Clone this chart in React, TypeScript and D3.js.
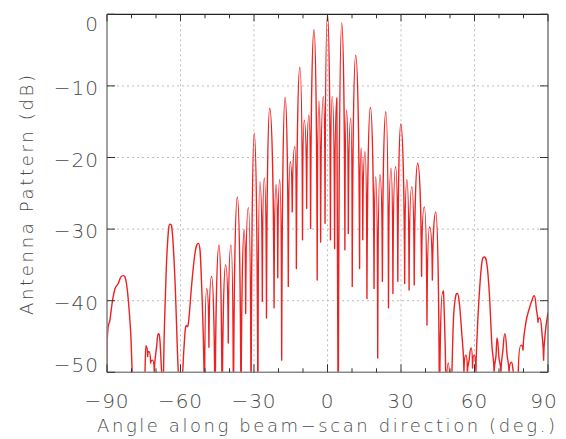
import React from "react";
import * as d3 from "d3";

// Angle (deg) / pattern (dB) vertices (peaks, nulls, ripple)
const angleDeg: number[] = [
  -90.0, -89.9, -88.8, -87.7, -86.7, -85.4, -84.4, -83.3, -82.2, -81.3, -80.3, -79.7, -78.5,
  -75.2, -74.5, -74.1, -73.4, -72.9, -72.2, -71.4, -70.7, -69.7, -69.1, -68.4, -67.7,
  -67.0, -66.0, -65.2, -64.3, -63.3, -62.2, -60.9, -59.5,
  -58.2, -56.8, -55.4, -54.1, -52.7, -51.4, -50.2,
  -49.3, -48.4, -47.3, -45.9, -44.3, -43.0, -41.6, -40.5, -39.4, -38.4, -36.8, -35.3,
  -34.0, -33.4, -32.3, -31.2, -29.9, -28.4, -27.6, -26.6, -25.8, -24.9, -23.6, -21.8,
  -21.0, -20.3, -19.5, -18.7, -17.3, -16.0, -15.2, -14.4, -13.3, -12.7, -11.3, -10.2,
  -9.5, -8.5, -7.6, -6.9, -5.5, -4.2, -3.5, -2.8, -1.7, -1.0, 0.0,
  1.2, 1.9, 2.9, 3.8, 4.4, 5.8, 7.1, 7.8, 8.5, 9.5, 10.1, 11.5, 13.1, 13.7, 14.4, 15.3,
  16.1, 17.5, 19.0, 19.7, 20.5, 21.4, 22.4, 23.8, 24.9, 25.9, 26.7, 27.8, 28.7, 29.9,
  31.5, 32.4, 33.3, 34.4, 35.4, 36.8, 38.4, 39.5, 40.6, 41.7, 42.8, 44.2, 45.7, 46.9,
  47.5, 48.4, 49.3, 50.0, 50.6, 51.4, 52.2, 53.0, 53.9, 54.7, 55.7,
  56.5, 57.1, 57.8, 58.6, 59.2, 59.8, 60.6,
  61.0, 61.8, 62.9, 64.0, 65.1, 66.1, 67.1, 68.0,
  68.8, 69.2, 70.0, 70.8, 71.6, 72.4, 73.3, 74.1, 75.1, 75.9, 77.8,
  79.0, 79.8, 81.0, 82.2, 83.5, 84.4, 85.3, 85.9, 86.7, 87.6, 88.2, 89.0, 90.0,
];

const patternDb: number[] = [
  -53, -45.5, -42.7, -39.9, -38.3, -37.6, -36.7, -36.5, -37.3, -39.9, -44.6, -50, -56,
  -56, -50, -46.3, -47.8, -47.1, -48.7, -48.3, -50, -46.3, -44.6, -45.5, -50,
  -53, -37.6, -31.5, -29.3, -30.6, -37.6, -50, -56,
  -44.6, -43.2, -37.6, -33.4, -32.0, -37.6, -56,
  -38.3, -46.5, -36.6, -58, -32.2, -58, -35.0, -45.9, -32.2, -58, -25.5, -58,
  -30.1, -41.8, -27.0, -58, -16.6, -58, -23.4, -40.1, -22.9, -42.4, -13.1, -41.0,
  -23.8, -36.8, -23.1, -48.3, -11.6, -38.0, -20.6, -27.6, -18.5, -35.5, -7.4, -31.5,
  -14.8, -27.1, -14.1, -29.9, -2.1, -37.1, -12.1, -31.8, -11.5, -29.2, 0.0,
  -31.5, -11.5, -32.7, -11.7, -60, -1.2, -32.9, -13.4, -30.6, -14.5, -38.0, -5.7, -35.5, -18.7, -31.5, -19.2,
  -39.7, -13.0, -38.3, -22.7, -48.0, -22.4, -37.3, -13.6, -41.0, -21.5, -39.0, -21.3, -37.3, -15.3,
  -37.6, -23.1, -38.5, -24.1, -37.8, -20.8, -36.6, -26.9, -43.4, -29.7, -37.1, -27.6, -58, -39.0,
  -40.0, -56, -48.7, -56, -52, -42.7, -39.6, -39.0, -40.6, -44.1, -50,
  -47.6, -50, -48.3, -46.6, -49.4, -47.6, -50,
  -45.5, -39.9, -35.0, -33.9, -35.0, -39.2, -46.2, -50,
  -47.6, -45.2, -48.0, -50, -46.9, -44.6, -47.6, -50, -48.6, -50, -51,
  -46.2, -46.9, -43.0, -41.3, -39.9, -39.3, -41.3, -43.0, -42.4, -44.8, -48.3, -44.1, -41.7,
];

const xTicks: number[] = [-90, -60, -30, 0, 30, 60, 90];
const xMinorTicks: number[] = [-80, -70, -50, -40, -20, -10, 10, 20, 40, 50, 70, 80];
const yTicks: number[] = [0, -10, -20, -30, -40, -50];
const xTickLabels: string[] = ["\u221290", "\u221260", "\u221230", "0", "30", "60", "90"];
const yTickLabels: string[] = ["0", "\u221210", "\u221220", "\u221230", "\u221240", "\u221250"];
const xTitle = "Angle along beam\u2212scan direction (deg.)";
const yTitle = "Antenna Pattern (dB)";

const W = 566;
const H = 439;
const L = 107;
const R = 548;
const T = 14.3;
const B = 372.3;

// Lobe-style path: round tops at local maxima, sharp nulls at local minima,
// smooth (Catmull-like) tangents elsewhere.
function lobePath(p: [number, number][]): string {
  const n = p.length;
  if (!n) return "";
  const k = 0.55;
  const kind = p.map((pt, i) => {
    if (i === 0 || i === n - 1) return 0;
    const a = p[i - 1][1];
    const c = p[i + 1][1];
    if (pt[1] < a && pt[1] < c) return 1; // peak (screen y smallest)
    if (pt[1] > a && pt[1] > c) return -1; // null
    return 0;
  });
  const handle = (i: number, j: number): [number, number] => {
    const [xi, yi] = p[i];
    const [xj, yj] = p[j];
    if (kind[i] === 1) return [xi + (xj - xi) * k, yi];
    if (kind[i] === -1) return [xi + (xj - xi) * 0.1, yi + (yj - yi) * k];
    const a = p[Math.max(0, i - 1)];
    const c = p[Math.min(n - 1, i + 1)];
    const m = (c[1] - a[1]) / (c[0] - a[0] || 1);
    const h = (xj - xi) / 3;
    return [xi + h, yi + m * h];
  };
  const path = d3.path();
  path.moveTo(p[0][0], p[0][1]);
  for (let i = 1; i < n; i++) {
    const c1 = handle(i - 1, i);
    const c2 = handle(i, i - 1);
    path.bezierCurveTo(c1[0], c1[1], c2[0], c2[1], p[i][0], p[i][1]);
  }
  return path.toString();
}

export default function App() {
  const x = d3.scaleLinear().domain([-90, 90]).range([L, R]);
  const y = d3.scaleLinear().domain([-50, 0]).range([B, T]);
  const pts: [number, number][] = angleDeg.map((a, i) => [x(a), y(patternDb[i])]);

  const font = "'DejaVu Sans', sans-serif";
  const txt = "#4a4a4a";
  const tickCol = "#333";

  return (
    <svg
      width={W}
      height={H}
      style={{ position: "absolute", left: 0, top: 0, background: "#fff" }}
    >
      <defs>
        <clipPath id="plotClip">
          <rect x={L} y={T - 2} width={R - L} height={B - T + 2} />
        </clipPath>
      </defs>
      {xTicks.slice(1, -1).map((t) => (
        <line key={"gx" + t} x1={x(t)} x2={x(t)} y1={T} y2={B} stroke="#bdbdbd" strokeWidth={1} strokeDasharray="2,3" />
      ))}
      {yTicks.slice(1, -1).map((t) => (
        <line key={"gy" + t} x1={L} x2={R} y1={y(t)} y2={y(t)} stroke="#bdbdbd" strokeWidth={1} strokeDasharray="2,3" />
      ))}
      <path d={lobePath(pts)} fill="none" stroke="#ee2020" strokeWidth={1.4} strokeLinejoin="round" clipPath="url(#plotClip)" />
      <line x1={L} x2={R} y1={T} y2={T} stroke="#222" strokeWidth={1.2} />
      <line x1={R} x2={R} y1={T} y2={B} stroke="#555" strokeWidth={1.2} />
      <line x1={L} x2={R} y1={B} y2={B} stroke="#8a8a8a" strokeWidth={1.6} />
      <line x1={L} x2={L} y1={T} y2={B} stroke="#8a8a8a" strokeWidth={1.6} />
      {xTicks.map((t) => (
        <g key={"tx" + t}>
          <line x1={x(t)} x2={x(t)} y1={B} y2={B - 8} stroke={tickCol} strokeWidth={1} />
          <line x1={x(t)} x2={x(t)} y1={T} y2={T + 7} stroke={tickCol} strokeWidth={1} />
        </g>
      ))}
      {xMinorTicks.map((t) => (
        <g key={"mx" + t}>
          <line x1={x(t)} x2={x(t)} y1={B} y2={B - 4} stroke={tickCol} strokeWidth={1} />
          <line x1={x(t)} x2={x(t)} y1={T} y2={T + 4} stroke={tickCol} strokeWidth={1} />
        </g>
      ))}
      {yTicks.map((t) => (
        <g key={"ty" + t}>
          <line x1={L} x2={L + 8} y1={y(t)} y2={y(t)} stroke={tickCol} strokeWidth={1} />
          <line x1={R} x2={R - 8} y1={y(t)} y2={y(t)} stroke={tickCol} strokeWidth={1} />
        </g>
      ))}
      {xTicks.map((t, i) => (
        <text
          key={"lx" + t}
          x={Math.min(x(t), 544)}
          y={408}
          textAnchor="middle"
          fontFamily={font}
          fontSize={20}
          fontWeight={200}
          letterSpacing={1}
          fill={txt}
        >
          {xTickLabels[i]}
        </text>
      ))}
      {yTicks.map((t, i) => (
        <text
          key={"ly" + t}
          x={99}
          y={Math.max(23.5, Math.min(365, y(t) + 2))}
          dy="0.36em"
          textAnchor="end"
          fontFamily={font}
          fontSize={20}
          fontWeight={200}
          letterSpacing={1}
          fill={txt}
        >
          {yTickLabels[i]}
        </text>
      ))}
      <text
        x={97}
        y={432}
        fontFamily={font}
        fontSize={18}
        fontWeight={200}
        fill={txt}
        textLength={458}
        lengthAdjust="spacing"
      >
        {xTitle}
      </text>
      <text
        transform="translate(33,315) rotate(-90)"
        x={0}
        y={0}
        fontFamily={font}
        fontSize={18}
        fontWeight={200}
        fill={txt}
        textLength={240}
        lengthAdjust="spacing"
      >
        {yTitle}
      </text>
    </svg>
  );
}
